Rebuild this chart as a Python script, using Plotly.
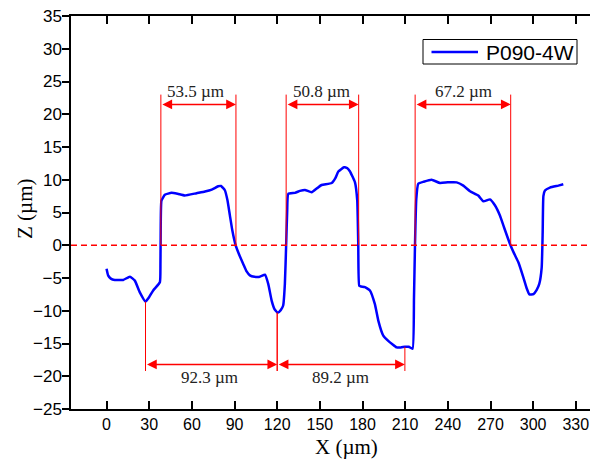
import plotly.graph_objects as go

# ---- profile data (X in µm, Z in µm) ----
x_um = [0, 1.1, 3, 5.8, 11.7, 16.4, 19.9, 23.4, 27.4, 30, 32.8, 37.5, 37.9, 38.1, 38.6,
        41, 45.7, 50, 55, 63.3, 69.2, 74, 78.5, 80.5, 83.2, 85, 86.7, 88.5, 90.7, 93,
        96.1, 98.5, 100.8, 104, 107.8, 111.4, 113.7, 116.1, 118, 120.3, 122.5, 124.2,
        125.4, 126.3, 127, 127.8, 132.5, 136, 139.5, 144.2, 148, 151.2, 158.3, 161,
        163, 167, 169, 171.1, 174.7, 176.3, 177, 177.7, 179, 181.7, 185.2, 188.7,
        191.1, 194.6, 198.1, 201, 204, 207, 209.8, 212.5, 215.2, 216.2, 216.9, 217.8,
        219.2, 223, 228.6, 234.5, 240, 246.2, 250.9, 255.6, 261.4, 265, 269.6, 273.1,
        276.7, 279.5, 283.7, 286.5, 289.6, 293.1, 295.5, 297.4, 300.2, 302.5, 304.3,
        306, 306.7, 307.2, 308.3, 311.8, 317.7, 321.2]
z_um = [-3.6, -4.6, -5.1, -5.3, -5.3, -4.8, -5.4, -7.2, -8.6, -7.9, -6.9, -5.65, -3, 3, 6.8,
        7.7, 8.0, 7.85, 7.6, 7.95, 8.2, 8.5, 9.0, 9.05, 8.4, 6.9, 4.6, 2.2, 0.05, -1.3,
        -2.85, -4.0, -4.6, -4.8, -4.8, -4.5, -5.9, -8.45, -9.7, -10.3, -9.9, -9.2,
        -5.9, 0, 5, 7.85, 8.0, 8.3, 8.45, 8.1, 8.7, 9.2, 9.5, 10.3,
        11.25, 11.9, 11.8, 11.3, 9.6, 6.8, 0.2, -6.2, -6.3, -6.4, -6.9, -9.0,
        -11.5, -13.8, -14.6, -15.1, -15.6, -15.6, -15.5, -15.5, -15.8, -8, 0, 7,
        9.4, 9.7, 10.0, 9.5, 9.6, 9.6, 9.1, 8.25, 7.6, 6.7, 7.0, 6.1,
        4.5, 2.75, 0.2, -1.2, -2.6, -4.9, -6.6, -7.5, -7.45, -6.8, -5.9,
        -3.4, 2, 7.5, 8.35, 8.8, 9.1, 9.3]
series_name = "P090-4W"

# ---- width measurements ----
top_left = [38.2, 126.3, 217.0]
top_right = [91.0, 177.3, 284.2]
top_label_x = [62.5, 151.5, 251.0]
top_labels = ["53.5 µm", "50.8 µm", "67.2 µm"]
top_line_end = 23.0
top_arrow_y = 21.5
top_label_y = 23.4

bot_left = [27.4, 120.0]
bot_right = [120.0, 209.8]
bot_left_start = [-8.6, -10.3]
bot_right_start = [-10.3, -15.5]
bot_label_x = [72.7, 164.5]
bot_labels = ["92.3 µm", "89.2 µm"]
bot_line_end = -19.2
bot_arrow_y = -18.2
bot_label_y = -20.2

x_ticks = list(range(0, 331, 30))
y_ticks = list(range(-25, 36, 5))
x_range = [-25, 345.6]
y_range = [-25, 35]

RED = "#ff0000"
BLUE = "#0000ff"
SANS = "Liberation Sans, Arial, sans-serif"
SERIF = "Liberation Serif, Times New Roman, serif"

# The page body has a default 8px margin, so the figure is shifted by OFF px.
OFF = 8
W, H = 598 - OFF, 462 - OFF
# plot-area geometry in page pixels
L, R, T, B = 71, 598, 16, 409
PW, PH = R - L, B - T
def px(xp):
    return (xp - L) / PW
def py(yp):
    return (B - yp) / PH

fig = go.Figure()
fig.add_trace(go.Scatter(x=x_um, y=z_um, mode="lines", name=series_name,
                         showlegend=False,
                         line=dict(color=BLUE, width=2.5, shape="spline", smoothing=0.4)))
fig.add_trace(go.Scatter(x=[None], y=[None], yaxis="y2", showlegend=False,
                         hoverinfo="skip"))

shapes = []
# zero reference line
shapes.append(dict(type="line", xref="paper", x0=0, x1=1, yref="y", y0=0, y1=0,
                   line=dict(color=RED, width=1.5, dash="6px,4px")))
# vertical extension lines
for xl, xr in zip(top_left, top_right):
    for xv in (xl, xr):
        shapes.append(dict(type="line", x0=xv, x1=xv, y0=0, y1=top_line_end,
                           line=dict(color=RED, width=1)))
for xl, xr, yl, yr in zip(bot_left, bot_right, bot_left_start, bot_right_start):
    shapes.append(dict(type="line", x0=xl, x1=xl, y0=yl, y1=bot_line_end,
                       line=dict(color=RED, width=1)))
    shapes.append(dict(type="line", x0=xr, x1=xr, y0=yr, y1=bot_line_end,
                       line=dict(color=RED, width=1)))

# legend box (drawn in paper coordinates)
shapes.append(dict(type="rect", xref="paper", yref="paper",
                   x0=px(423), x1=px(577), y0=py(64), y1=py(39.5),
                   line=dict(color="black", width=1), fillcolor="white", layer="above"))
shapes.append(dict(type="line", xref="paper", yref="paper",
                   x0=px(431.5), x1=px(478), y0=py(52), y1=py(52),
                   line=dict(color=BLUE, width=2.5), layer="above"))

annotations = []
def dim_arrow(x0, x1, y):
    return dict(x=x1, y=y, ax=x0, ay=y, xref="x", yref="y", axref="x", ayref="y",
                text="", showarrow=True, arrowside="end+start", arrowhead=2,
                arrowsize=1.3, arrowwidth=1.5, arrowcolor=RED, standoff=0,
                startstandoff=0)

for xl, xr, lx, lab in zip(top_left, top_right, top_label_x, top_labels):
    annotations.append(dim_arrow(xl, xr, top_arrow_y))
    annotations.append(dict(x=lx, y=top_label_y, text=lab, showarrow=False,
                            font=dict(family=SERIF, size=17, color="#222222"),
                            xanchor="center", yanchor="middle"))
for xl, xr, lx, lab in zip(bot_left, bot_right, bot_label_x, bot_labels):
    annotations.append(dim_arrow(xl, xr, bot_arrow_y))
    annotations.append(dict(x=lx, y=bot_label_y, text=lab, showarrow=False,
                            font=dict(family=SERIF, size=17, color="#222222"),
                            xanchor="center", yanchor="middle"))

# legend text
annotations.append(dict(xref="paper", yref="paper", x=px(484), y=py(52),
                        text=series_name, showarrow=False, xanchor="left",
                        yanchor="middle",
                        font=dict(family=SANS, size=21, color="black")))

# axis titles
annotations.append(dict(xref="paper", yref="paper", x=px(346), y=py(447),
                        text="X (µm)", showarrow=False, xanchor="center", yanchor="middle",
                        font=dict(family=SERIF, size=21, color="black")))
annotations.append(dict(xref="paper", yref="paper", x=px(25), y=py(209),
                        text="Z (µm)", showarrow=False, textangle=-90,
                        xanchor="center", yanchor="middle",
                        font=dict(family=SERIF, size=21, color="black")))

fig.update_layout(
    width=W, height=H,
    margin=dict(l=L - OFF, r=598 - R, t=T - OFF, b=462 - B, autoexpand=False),
    paper_bgcolor="white", plot_bgcolor="white",
    showlegend=False,
    xaxis=dict(range=x_range, tickvals=x_ticks, ticks="inside", ticklen=8,
               tickwidth=1.5, tickcolor="black", showline=True, linecolor="black",
               linewidth=1.5, mirror="ticks", showgrid=False, zeroline=False,
               automargin=False, ticklabeloverflow="allow",
               tickfont=dict(family=SANS, size=16, color="black"),
               ticklabelstandoff=0),
    yaxis=dict(range=y_range, tickvals=y_ticks, ticks="outside", ticklen=7,
               tickwidth=1.5, tickcolor="black", showline=True, linecolor="black",
               linewidth=1.5, mirror=False, showgrid=False, zeroline=False,
               automargin=False, ticklabeloverflow="allow",
               tickfont=dict(family=SANS, size=17, color="black"),
               ticklabelstandoff=-3),
    yaxis2=dict(range=y_range, tickvals=y_ticks, overlaying="y", side="right",
                ticks="inside", ticklen=3, tickwidth=1.5, tickcolor="black",
                showticklabels=False, showline=False, showgrid=False, zeroline=False,
                automargin=False),
    shapes=shapes,
    annotations=annotations,
)

fig.write_html("out.html")
